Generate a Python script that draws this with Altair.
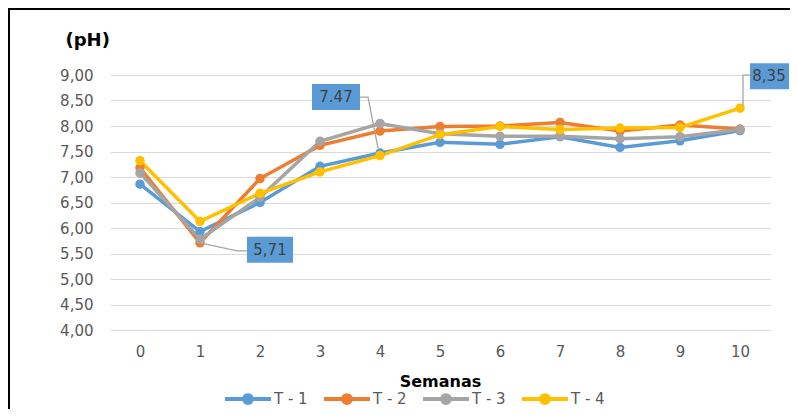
import altair as alt
import pandas as pd

weeks = list(range(11))
series_names = ["T - 1", "T - 2", "T - 3", "T - 4"]
t1 = [6.86, 5.93, 6.50, 7.21, 7.47, 7.68, 7.64, 7.79, 7.58, 7.71, 7.91]
t2 = [7.18, 5.71, 6.97, 7.62, 7.90, 7.99, 8.00, 8.07, 7.90, 8.02, 7.94]
t3 = [7.08, 5.78, 6.60, 7.70, 8.05, 7.85, 7.80, 7.80, 7.75, 7.79, 7.93]
t4 = [7.32, 6.13, 6.68, 7.10, 7.42, 7.83, 7.99, 7.93, 7.96, 7.97, 8.35]
colors = ["#5B9BD5", "#ED7D31", "#A5A5A5", "#FFC000"]

y_ticks = [4.0, 4.5, 5.0, 5.5, 6.0, 6.5, 7.0, 7.5, 8.0, 8.5, 9.0]

ann_weeks = [1, 4, 10]
ann_values = [5.71, 7.47, 8.35]
ann_texts = ["5,71", "7.47", "8,35"]

rows = []
for name, vals in zip(series_names, [t1, t2, t3, t4]):
    for w, v in zip(weeks, vals):
        rows.append({"week": w, "value": v, "series": name})
df = pd.DataFrame(rows)

FONT = "DejaVu Sans"
GREY_TXT = "#595959"

x_scale = alt.Scale(domain=[-0.5, 10.5], nice=False, zero=False)
y_scale = alt.Scale(domain=[4, 9], nice=False, zero=False)

x_axis = alt.Axis(
    values=weeks, format="d", title="Semanas", grid=False, domain=False,
    ticks=False, labelFont=FONT, labelFontSize=15, labelColor=GREY_TXT,
    labelPadding=14, labelOverlap=False, titleFont=FONT,
    titleFontWeight="bold", titleFontSize=16, titleColor="#000000",
    titleY=56, titleBaseline="alphabetic",
)
y_axis = alt.Axis(
    values=y_ticks,
    labelExpr="replace(format(datum.value, '.2f'), '.', ',')",
    grid=True, gridColor="#D9D9D9", gridWidth=1, domain=False, ticks=False,
    labelFont=FONT, labelFontSize=15, labelColor=GREY_TXT, labelPadding=17,
    labelOverlap=False,
    title="(pH)", titleAngle=0, titleAlign="left", titleBaseline="alphabetic",
    titleX=-45, titleY=-30, titleFont=FONT, titleFontSize=18,
    titleFontWeight="bold", titleColor="#000000",
)

def xe():
    return alt.X("week:Q", scale=x_scale, axis=x_axis)

def ye():
    return alt.Y("value:Q", scale=y_scale, axis=y_axis)

# stroke-only legend glyph: a line with a solid dot (two concentric rings)
legend_path = ("M-1,0L1,0 "
               "M0.17,0A0.17,0.17 0 1,1 -0.17,0A0.17,0.17 0 1,1 0.17,0 "
               "M0.06,0A0.06,0.06 0 1,1 -0.06,0A0.06,0.06 0 1,1 0.06,0")

legend = alt.Legend(
    title=None, orient="none", legendX=113, legendY=299,
    direction="horizontal", symbolType=legend_path, symbolSize=2116,
    symbolStrokeWidth=4, symbolOpacity=1, labelFont=FONT,
    labelFontSize=15, labelColor=GREY_TXT, labelOffset=1,
    columnPadding=8, padding=0,
)

def ce():
    return alt.Color("series:N", scale=alt.Scale(domain=series_names, range=colors),
                     legend=legend)

base = alt.Chart(df)
lines = base.mark_line(strokeWidth=3.5).encode(x=xe(), y=ye(), color=ce())
points = base.mark_point(filled=True, size=90, opacity=1).encode(
    x=xe(), y=ye(), color=ce())

layers = [lines, points]

leader_paths = [
    "M0,0L37,8L47,8",
    "M-20,-56L-12,-56L-2,-5",
    "M3,-3L3,-33L10,-33",
]
box_paths = [
    "M47,-6L93,-6L93,20L47,20Z",
    "M-68,-69L-20,-69L-20,-43L-68,-43Z",
    "M10,-45L49,-45L49,-19L10,-19Z",
]
text_offsets = [(70, 7), (-44, -56), (29, -32)]

for i in range(len(ann_texts)):
    adf = pd.DataFrame({"week": [ann_weeks[i]], "value": [ann_values[i]],
                        "label": [ann_texts[i]]})
    ab = alt.Chart(adf)
    leader = ab.mark_point(shape=leader_paths[i], size=4, filled=False,
                           color="#A5A5A5", strokeWidth=1.3, opacity=1).encode(
        x=xe(), y=ye(),
    )
    box = ab.mark_point(shape=box_paths[i], size=4, filled=True,
                        color="#5B9BD5", opacity=1, strokeWidth=0).encode(
        x=xe(), y=ye(),
    )
    txt = ab.mark_text(dx=text_offsets[i][0], dy=text_offsets[i][1], font=FONT,
                       fontSize=15, color="#404040", align="center",
                       baseline="middle").encode(
        x=xe(), y=ye(), text="label:N",
    )
    layers += [leader, box, txt]

frame = alt.Chart(pd.DataFrame({"k": [0]})).mark_rect(
    fillOpacity=0, stroke="#000000", strokeWidth=2
).encode(
    x=alt.value(-101), x2=alt.value(900), y=alt.value(-66), y2=alt.value(600)
)
layers.append(frame)

chart = alt.layer(*layers).properties(
    width=660, height=255,
    autosize=alt.AutoSizeParams(type="none"),
    padding={"left": 102, "top": 67, "right": 20, "bottom": 79},
).configure_view(stroke=None)

chart.save("out.html", embed_options={"renderer": "svg", "actions": False})
